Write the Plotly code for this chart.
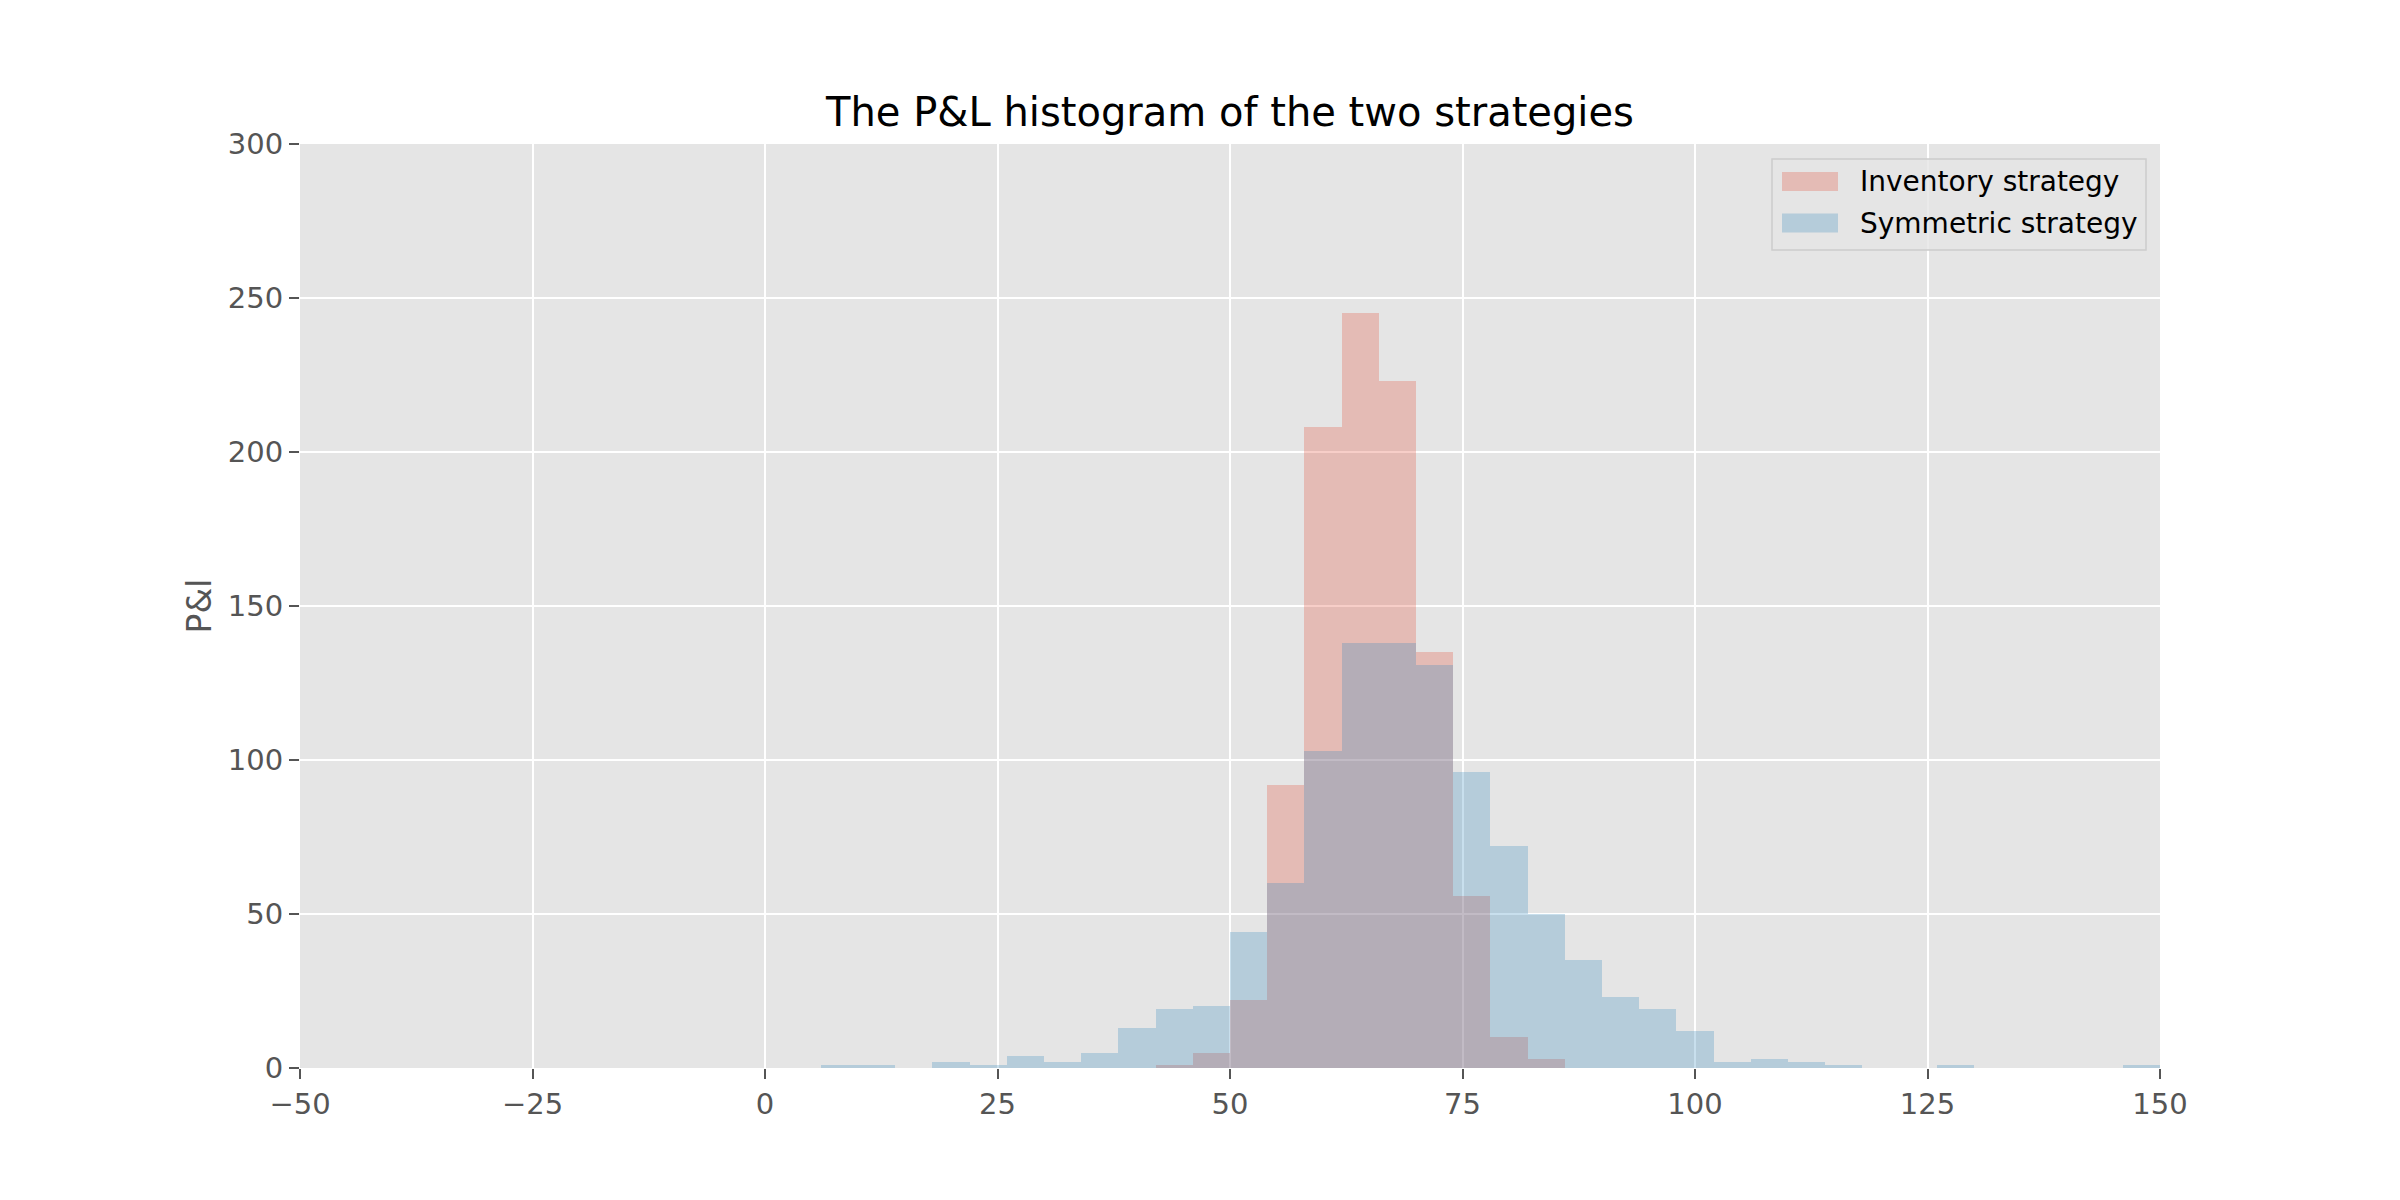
import plotly.graph_objects as go

# Bin left edges (width 4)
bin_left = [6, 10, 14, 18, 22, 26, 30, 34, 38, 42, 46, 50, 54, 58, 62, 66, 70, 74,
            78, 82, 86, 90, 94, 98, 102, 106, 110, 114, 118, 122, 126, 130, 134, 138, 142, 146]
bin_width = 4

inventory_counts = [0, 0, 0, 0, 0, 0, 0, 0, 0, 1, 5, 22, 92, 208, 245, 223, 135, 56,
                    10, 3, 0, 0, 0, 0, 0, 0, 0, 0, 0, 0, 0, 0, 0, 0, 0, 0]
symmetric_counts = [1, 1, 0, 2, 1, 4, 2, 5, 13, 19, 20, 44, 60, 103, 138, 138, 131, 96,
                    72, 50, 35, 23, 19, 12, 2, 3, 2, 1, 0, 0, 1, 0, 0, 0, 0, 1]

series_names = ["Inventory strategy", "Symmetric strategy"]
series_colors = ["rgba(226,74,51,0.27)", "rgba(52,138,189,0.27)"]

x_ticks = [-50, -25, 0, 25, 50, 75, 100, 125, 150]
y_ticks = [0, 50, 100, 150, 200, 250, 300]

FONT = "DejaVu Sans"
W, H = 2400, 1200
ML, MR, MT, MB = 300, 240, 144, 132
PW, PH = W - ML - MR, H - MT - MB


def px_x(p):
    return (p - ML) / PW


def px_y(p):
    return 1 - (p - MT) / PH


fig = go.Figure()
for name, counts, color in zip(series_names, [inventory_counts, symmetric_counts], series_colors):
    fig.add_trace(go.Bar(
        x=bin_left, y=counts, width=bin_width, offset=0,
        name=name,
        marker=dict(color=color, line=dict(width=0)),
        showlegend=False,
    ))

# manual legend (matplotlib style)
shapes = [dict(
    type="rect", xref="paper", yref="paper",
    x0=px_x(1772), x1=px_x(2146), y0=px_y(250), y1=px_y(159),
    fillcolor="rgba(229,229,229,0.8)", line=dict(color="#CCCCCC", width=1.5),
    layer="above",
)]
annotations = []
row_centers = [181.5, 223]
for name, color, yc in zip(series_names, series_colors, row_centers):
    shapes.append(dict(
        type="rect", xref="paper", yref="paper",
        x0=px_x(1782), x1=px_x(1838), y0=px_y(yc + 9.5), y1=px_y(yc - 9.5),
        fillcolor=color, line=dict(width=0), layer="above",
    ))
    annotations.append(dict(
        text=name, xref="paper", yref="paper",
        x=px_x(1858), y=px_y(yc), xanchor="left", yanchor="middle",
        showarrow=False, font=dict(family=FONT, size=28, color="black"),
    ))

fig.update_layout(
    width=W, height=H,
    margin=dict(l=ML, r=MR, t=MT, b=MB),
    paper_bgcolor="white",
    plot_bgcolor="#E5E5E5",
    barmode="overlay",
    bargap=0,
    font=dict(family=FONT, size=29, color="#555555"),
    title=dict(
        text="The P&L histogram of the two strategies",
        x=0.5, xref="paper", xanchor="center",
        y=1 - 112 / 1200, yref="container", yanchor="middle",
        font=dict(family=FONT, size=40, color="black"),
    ),
    shapes=shapes,
    annotations=annotations,
    showlegend=False,
)

fig.update_xaxes(
    range=[-50, 150],
    tickvals=x_ticks,
    ticks="outside", ticklen=10, tickwidth=1.7, tickcolor="#555555",
    tickfont=dict(family=FONT, size=29, color="#555555"),
    showgrid=True, gridcolor="white", gridwidth=2,
    zeroline=False, showline=False,
)
fig.update_yaxes(
    range=[0, 300],
    tickvals=y_ticks,
    ticks="outside", ticklen=10, tickwidth=1.7, tickcolor="#555555",
    tickfont=dict(family=FONT, size=29, color="#555555"),
    showgrid=True, gridcolor="white", gridwidth=2,
    zeroline=False, showline=False,
    title=dict(text="P&l", standoff=6, font=dict(family=FONT, size=33, color="#555555")),
)

fig.write_html("out.html", config={"displayModeBar": False},
               post_script="document.body.style.margin='0px';")
